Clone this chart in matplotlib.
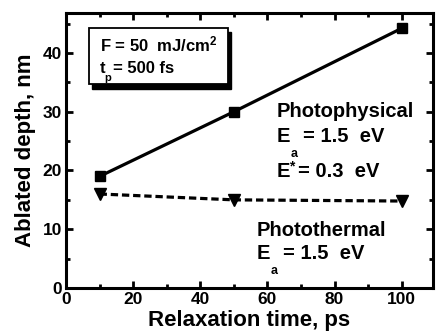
import matplotlib.pyplot as plt
from matplotlib.patches import Rectangle

# Data
time_ps = [10, 50, 100]
depth_photophysical = [19.0, 30.0, 44.2]
depth_photothermal = [16.0, 15.0, 14.8]

x_ticks = [0, 20, 40, 60, 80, 100]
y_ticks = [0, 10, 20, 30, 40]

plt.rcParams["font.family"] = ["Liberation Sans", "DejaVu Sans"]
plt.rcParams["font.weight"] = "bold"
plt.rcParams["mathtext.fontset"] = "custom"
plt.rcParams["mathtext.bf"] = "Liberation Sans:bold"
plt.rcParams["mathtext.rm"] = "Liberation Sans:bold"
plt.rcParams["mathtext.default"] = "bf"

fig = plt.figure(figsize=(4.36, 3.35), dpi=100)
ax = fig.add_axes([0.1514, 0.1403, 0.8417, 0.8209])

ax.plot(time_ps, depth_photophysical, "-", color="black", lw=2.3,
        marker="s", ms=7.5)
ax.plot(time_ps, depth_photothermal, "--", color="black", lw=2.3,
        marker="v", ms=8.5, dashes=(2.3, 1.2))

ax.set_xlim(0, 109.3)
ax.set_ylim(0, 46.8)
ax.set_xticks(x_ticks)
ax.set_yticks(y_ticks)
ax.set_xticks(range(10, 110, 20), minor=True)
ax.set_yticks(range(5, 50, 10), minor=True)
ax.tick_params(which="both", direction="in", top=True, right=True,
               width=2, labelsize=12.5, pad=3)
ax.tick_params(which="major", length=5)
ax.tick_params(which="minor", length=3)
for lab in ax.get_xticklabels() + ax.get_yticklabels():
    lab.set_fontweight("bold")
for sp in ax.spines.values():
    sp.set_linewidth(2.2)

ax.set_xlabel("Relaxation time, ps", fontsize=16, fontweight="bold", labelpad=2)
ax.set_ylabel("Ablated depth, nm", fontsize=16, fontweight="bold", labelpad=5)

# Parameter box with shadow
ax.add_patch(Rectangle((7.7, 33.9), 41.4, 9.6, facecolor="black",
                       edgecolor="black", zorder=3))
ax.add_patch(Rectangle((6.85, 34.7), 41.4, 9.6, facecolor="white",
                       edgecolor="black", lw=1.3, zorder=4))
ax.text(10.1, 40.2, r"F = 50  mJ/cm$^2$", fontsize=12, fontweight="bold",
        va="baseline", zorder=5)
ax.text(10.1, 36.6, "t", fontsize=12, fontweight="bold", va="baseline", zorder=5)
ax.text(11.4, 35.2, "p", fontsize=8, fontweight="bold", va="baseline", zorder=5)
ax.text(14.0, 36.6, "= 500 fs", fontsize=12, fontweight="bold",
        va="baseline", zorder=5)


def label_e(x, y, sub, sup, rest):
    """Draw 'E' with a low subscript or a raised mark, then the value."""
    ax.text(x, y, "E", fontsize=14.5, fontweight="bold", va="baseline")
    if sub:
        ax.text(x + 4.0, y - 2.5, sub, fontsize=9, fontweight="bold", va="baseline")
        ax.text(x + 7.8, y, rest, fontsize=14.5, fontweight="bold", va="baseline")
    else:
        ax.text(x + 3.6, y + 3.0, sup, fontsize=10, fontweight="bold", va="top")
        ax.text(x + 6.4, y, rest, fontsize=14.5, fontweight="bold", va="baseline")


ax.text(62.8, 29.1, "Photophysical", fontsize=14.5, fontweight="bold", va="baseline")
label_e(62.8, 24.85, "a", None, "= 1.5  eV")
label_e(62.8, 18.9, None, "*", "= 0.3  eV")
ax.text(56.8, 8.85, "Photothermal", fontsize=14.5, fontweight="bold", va="baseline")
label_e(56.8, 4.94, "a", None, "= 1.5  eV")

fig.savefig("out.png", dpi=100)
